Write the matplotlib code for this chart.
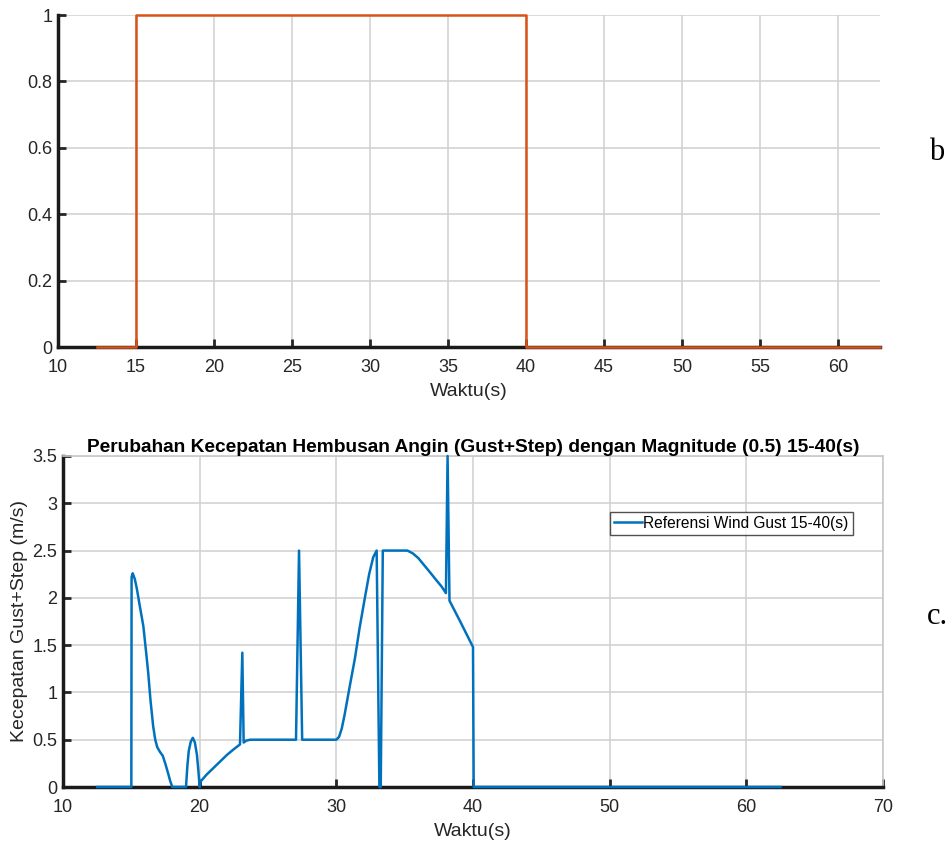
import matplotlib
matplotlib.use("Agg")
import matplotlib.pyplot as plt

plt.rcParams['font.family'] = ['Liberation Sans', 'DejaVu Sans']

# Step signal (upper panel)
step_t = [12.5, 15.0, 15.0, 40.0, 40.0, 62.7]
step_v = [0, 0, 1, 1, 0, 0]

# Gust + step wind speed (lower panel)
gust_t = [12.5, 15.0, 15.02, 15.1, 15.25, 15.4, 15.6, 15.88, 16.1, 16.24, 16.4,
          16.6, 16.75, 16.9, 17.1, 17.3, 17.5, 17.7, 17.85, 18.0,
          19.0, 19.1, 19.2, 19.35, 19.5, 19.65, 19.8, 19.9, 20.0,
          20.02, 20.5, 21.0, 21.5, 22.0, 22.5, 22.95, 23.12, 23.22, 23.4, 23.7,
          27.05, 27.27, 27.5, 30.0, 30.2, 30.4, 30.6, 30.8, 31.0, 31.36, 31.7,
          32.1, 32.4, 32.7, 32.95, 33.15, 33.25, 33.4,
          35.2, 35.6, 36.0, 36.4, 36.8, 37.3, 37.7, 38.02, 38.14, 38.28,
          39.1, 40.0, 40.05, 62.5]
gust_v = [0, 0, 2.22, 2.26, 2.2, 2.1, 1.93, 1.7, 1.4, 1.2, 0.92,
          0.64, 0.5, 0.42, 0.37, 0.33, 0.24, 0.14, 0.06, 0,
          0, 0.22, 0.38, 0.48, 0.52, 0.47, 0.34, 0.18, 0,
          0.05, 0.13, 0.2, 0.27, 0.34, 0.4, 0.45, 1.42, 0.47, 0.49, 0.5,
          0.5, 2.5, 0.5, 0.5, 0.53, 0.62, 0.76, 0.92, 1.08, 1.36, 1.68,
          2.01, 2.25, 2.43, 2.5, 0, 0, 2.5,
          2.5, 2.47, 2.42, 2.35, 2.28, 2.19, 2.12, 2.05, 3.5, 1.97,
          1.74, 1.48, 0, 0]

top_xticks = [10, 15, 20, 25, 30, 35, 40, 45, 50, 55, 60]
top_yticks = [0, 0.2, 0.4, 0.6, 0.8, 1]
top_yticklabels = ['0', '0.2', '0.4', '0.6', '0.8', '1']
bot_xticks = [10, 20, 30, 40, 50, 60, 70]
bot_yticks = [0, 0.5, 1, 1.5, 2, 2.5, 3, 3.5]
bot_yticklabels = ['0', '0.5', '1', '1.5', '2', '2.5', '3', '3.5']

BLUE = '#0072BD'
ORANGE = '#D95319'
GRID = '#d0d0d0'
TXT = '#262626'

W, H = 947, 843
fig = plt.figure(figsize=(W / 100, H / 100), dpi=100)


def px_axes(l, t, r, b):
    return fig.add_axes([l / W, 1 - b / H, (r - l) / W, (b - t) / H])


def style(ax):
    ax.set_facecolor('white')
    ax.grid(True, color=GRID, linewidth=1.1)
    ax.set_axisbelow(True)
    ax.tick_params(direction='in', length=6, width=2, labelsize=13,
                   colors=TXT)
    ax.tick_params(axis='x', pad=9)
    ax.tick_params(axis='y', pad=4)
    for s in ('left', 'bottom'):
        ax.spines[s].set_linewidth(2.5)
        ax.spines[s].set_color('#1a1a1a')


# ---- upper panel ----
ax1 = px_axes(58, 15, 880, 347)
style(ax1)
ax1.plot(step_t, step_v, color=ORANGE, linewidth=1.8, zorder=5, clip_on=False)
ax1.set_xlim(10, 62.7)
ax1.set_ylim(0, 1)
ax1.set_xticks(top_xticks)
ax1.set_yticks(top_yticks)
ax1.set_yticklabels(top_yticklabels)
ax1.spines['top'].set_visible(False)
ax1.spines['right'].set_visible(False)
ax1.set_xlabel('Waktu(s)', fontsize=14, color=TXT, labelpad=5)
fig.text(937 / W, 1 - 152 / H, 'b', family='Liberation Serif', fontsize=22,
         ha='center', va='center')

# ---- lower panel ----
ax2 = px_axes(63, 456, 883, 787)
style(ax2)
for s in ('top', 'right'):
    ax2.spines[s].set_color('#c8c8c8')
    ax2.spines[s].set_linewidth(1.2)
ax2.plot(gust_t, gust_v, color=BLUE, linewidth=1.8, zorder=5, clip_on=False,
         label='Referensi Wind Gust 15-40(s)')
ax2.set_xlim(10, 70)
ax2.set_ylim(0, 3.5)
ax2.set_xticks(bot_xticks)
ax2.set_yticks(bot_yticks)
ax2.set_yticklabels(bot_yticklabels)
ax2.set_xlabel('Waktu(s)', fontsize=14, color=TXT, labelpad=5)
ax2.set_ylabel('Kecepatan Gust+Step (m/s)', fontsize=14, color=TXT,
               labelpad=3)
ax2.set_title('Perubahan Kecepatan Hembusan Angin (Gust+Step) dengan Magnitude (0.5) 15-40(s)',
              fontsize=13.8, fontweight='bold', pad=3)
leg = ax2.legend(loc='upper left', bbox_to_anchor=((610 - 63) / 820, 1 - (512 - 456) / 331),
                 fontsize=11.2, frameon=True, fancybox=False, borderpad=0.25,
                 handlelength=1.8, handletextpad=0.1, borderaxespad=0)
leg.get_frame().set_edgecolor(TXT)
leg.get_frame().set_linewidth(1.0)
fig.text(937 / W, 1 - 617 / H, 'c.', family='Liberation Serif', fontsize=22,
         ha='center', va='center')

fig.savefig('out.png', dpi=100, facecolor='white')
